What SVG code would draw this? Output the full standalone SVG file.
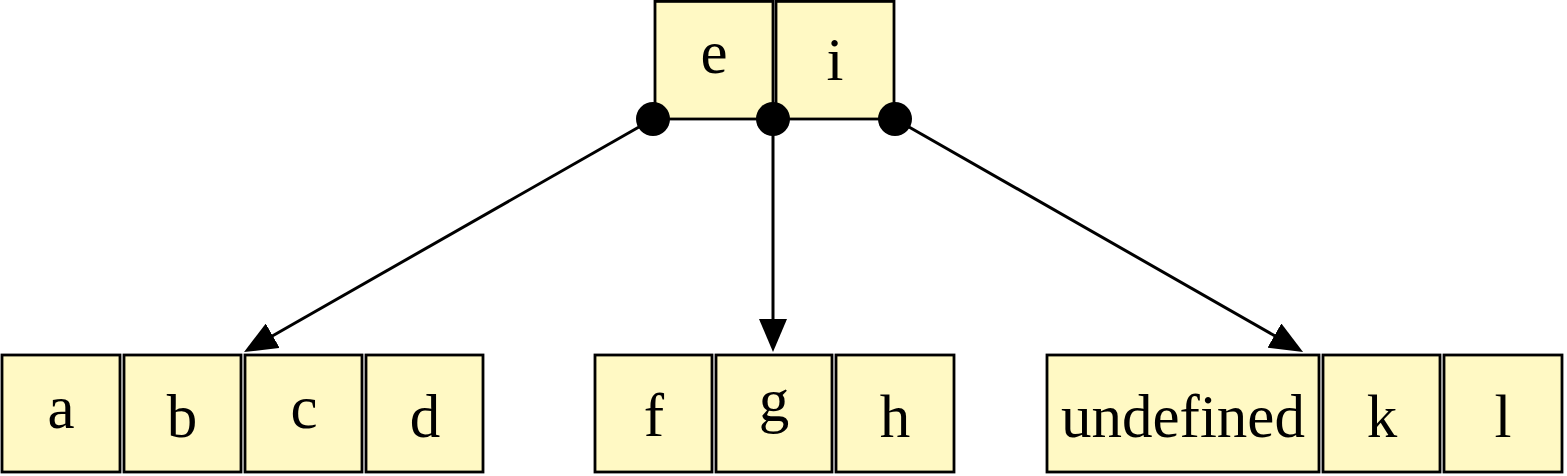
<svg xmlns="http://www.w3.org/2000/svg" width="1567" height="476" viewBox="0 0 1567 476">
<style>
.box{fill:#fff9c4;stroke:#000;stroke-width:2.8}
.t{font-family:"Liberation Serif","DejaVu Serif",serif;font-size:61px;fill:#000;text-anchor:middle}
.edge{stroke:#000;stroke-width:3;fill:none}
.dot{fill:#000}
</style>
<defs>
<marker id="arr" markerUnits="userSpaceOnUse" markerWidth="34" markerHeight="28" refX="3" refY="14" orient="auto">
<path d="M0,0 L33,14 L0,28 z" fill="#000"/>
</marker>
</defs>
<g id="root">
<rect class="box" x="655" y="1.4" width="118" height="117.6"/>
<text class="t" x="714" y="73">e</text>
<rect class="box" x="776" y="1.4" width="118" height="117.6"/>
<text class="t" x="835" y="80">i</text>
</g>
<g id="left">
<rect class="box" x="2" y="355" width="118" height="117"/>
<text class="t" x="61" y="428">a</text>
<rect class="box" x="124" y="355" width="117" height="117"/>
<text class="t" x="182" y="437">b</text>
<rect class="box" x="245" y="355" width="117" height="117"/>
<text class="t" x="304" y="428">c</text>
<rect class="box" x="366" y="355" width="117" height="117"/>
<text class="t" x="425" y="437">d</text>
</g>
<g id="middle">
<rect class="box" x="595" y="355" width="117" height="117"/>
<text class="t" x="654" y="436">f</text>
<rect class="box" x="716" y="355" width="116" height="117"/>
<text class="t" x="774" y="421">g</text>
<rect class="box" x="836" y="355" width="118" height="117"/>
<text class="t" x="895" y="437">h</text>
</g>
<g id="right">
<rect class="box" x="1047" y="355" width="272" height="117"/>
<text class="t" x="1183" y="437">undefined</text>
<rect class="box" x="1323" y="355" width="117" height="117"/>
<text class="t" x="1382" y="437">k</text>
<rect class="box" x="1444" y="355" width="118" height="117"/>
<text class="t" x="1503" y="437">l</text>
</g>
<g id="connectors">
<line class="edge" x1="653" y1="119" x2="270.1" y2="337.2" marker-end="url(#arr)"/>
<line class="edge" x1="773" y1="119" x2="773" y2="322" marker-end="url(#arr)"/>
<line class="edge" x1="895" y1="119" x2="1277" y2="337.1" marker-end="url(#arr)"/>
<circle class="dot" cx="653" cy="119" r="17"/>
<circle class="dot" cx="773" cy="119" r="17"/>
<circle class="dot" cx="895" cy="119" r="17"/>
</g>
</svg>
